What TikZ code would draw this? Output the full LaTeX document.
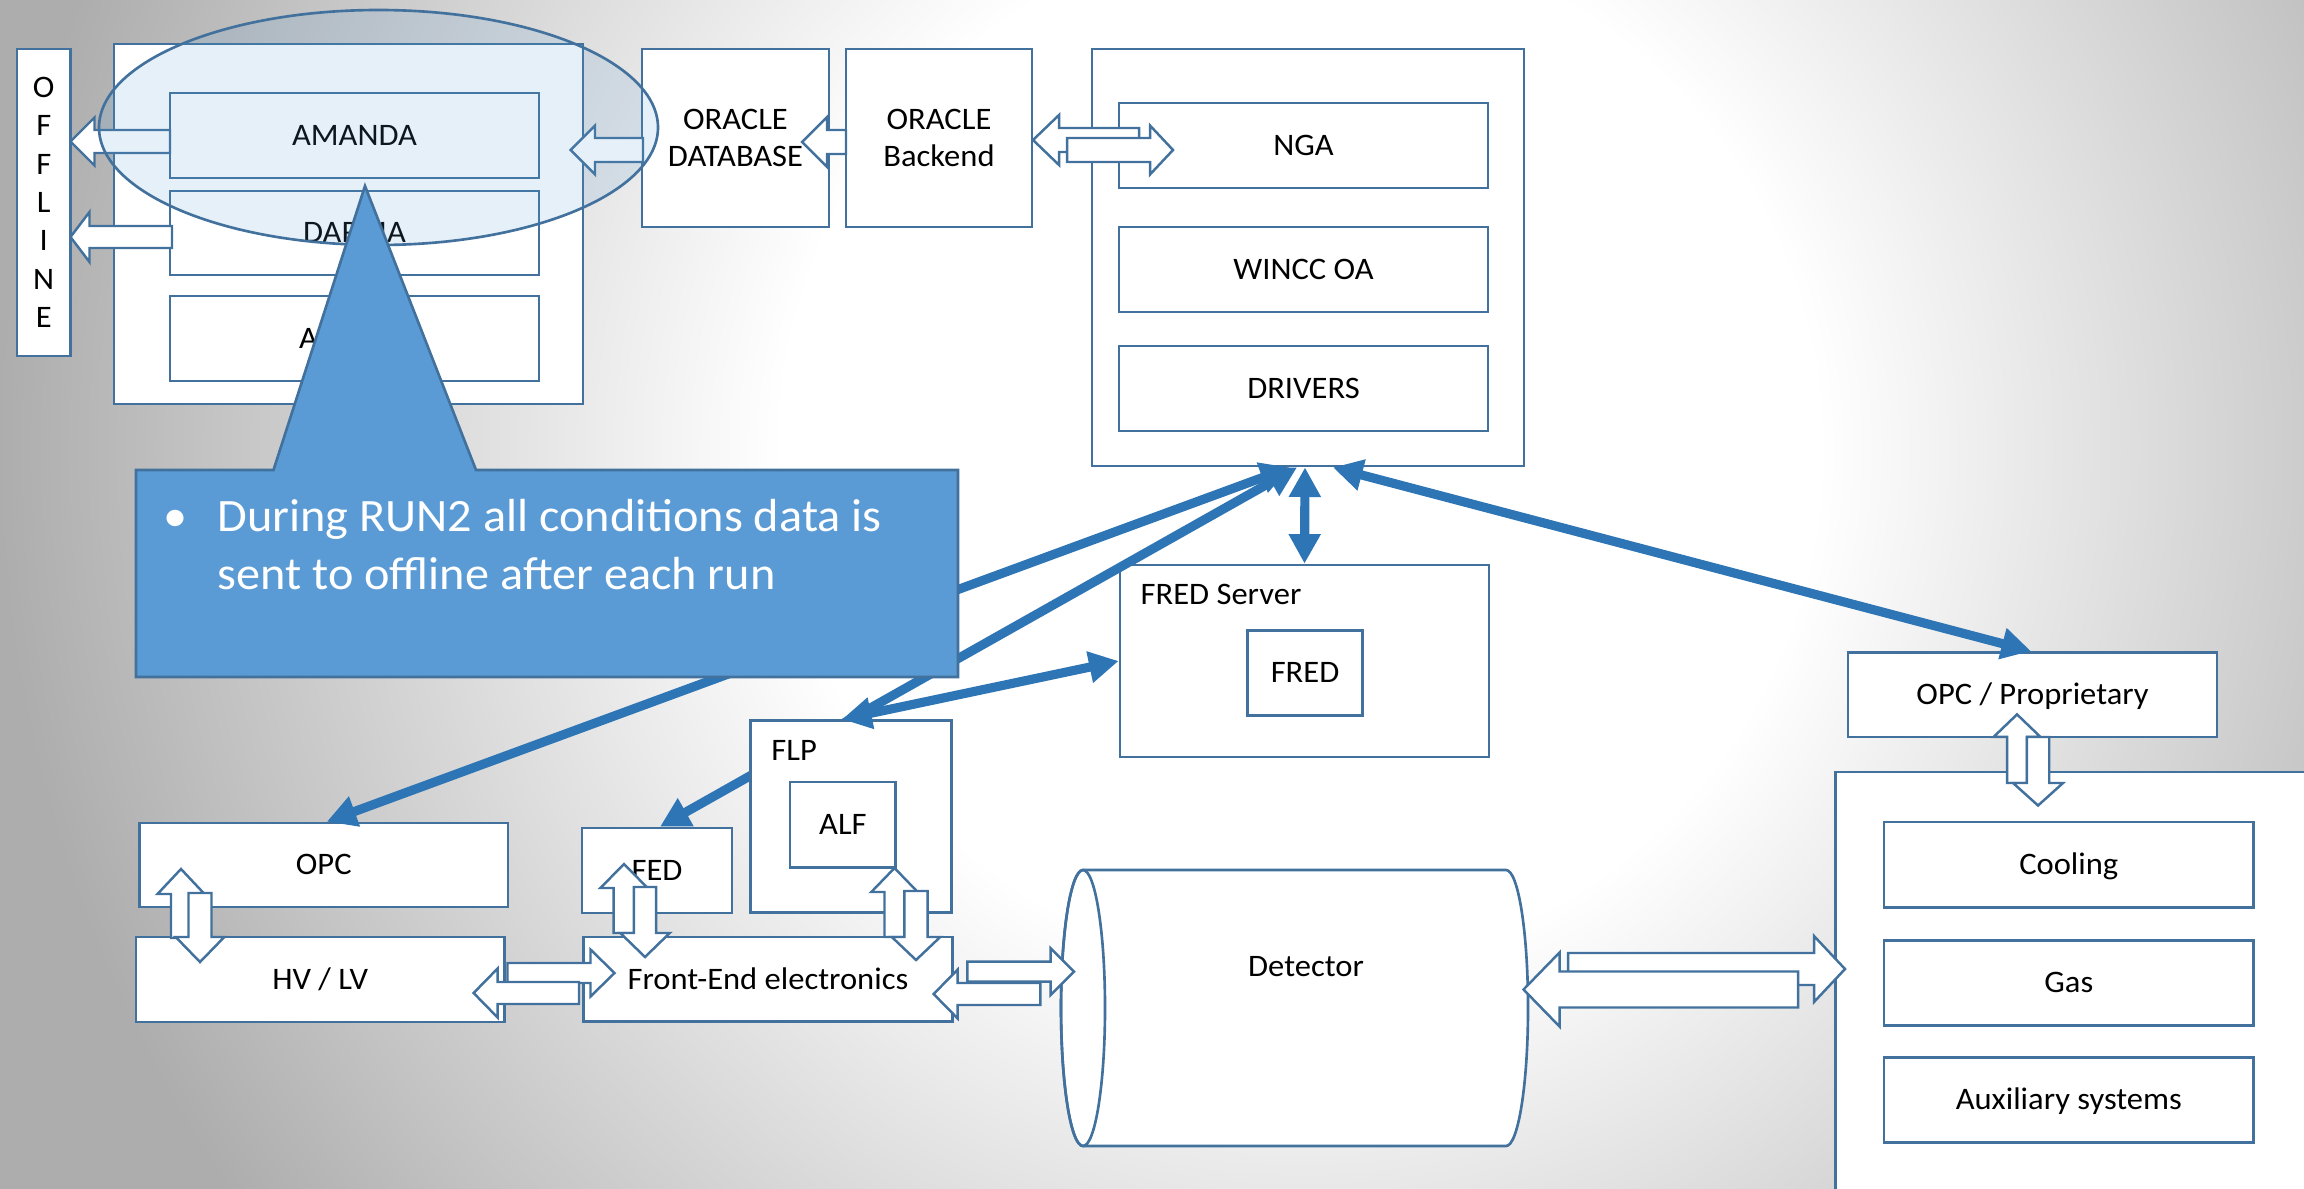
\documentclass[tikz,border=0pt]{standalone}
\usepackage{fontspec}
\setmainfont{Carlito}[FakeStretch=1.04]
\usetikzlibrary{arrows.meta}

\definecolor{edgeblue}{RGB}{65,113,156}
\definecolor{accentblue}{RGB}{91,155,213}
\definecolor{linkblue}{RGB}{46,117,182}

% slide background: white glow, grey towards the edges
\pgfdeclareradialshading{slidebg}{\pgfpointorigin}{rgb(0bp)=(1,1,1); rgb(147bp)=(1,1,1); rgb(368bp)=(0.68,0.68,0.68); rgb(500bp)=(0.68,0.68,0.68)}

% hollow block arrow: tail point, direction angle, length, shaft half width, head half width, head length
\newcommand\blockarrow[6]{%
  \begin{scope}[shift={#1},rotate=#2]
    \draw[blockline] (0,-#4) -- ({#3-#6},-#4) -- ({#3-#6},-#5) -- (#3,0)
      -- ({#3-#6},#5) -- ({#3-#6},#4) -- (0,#4) -- cycle;
  \end{scope}}

\tikzset{
  lbl/.style={font=\fontsize{8.9pt}{10.6pt}\selectfont, text=black, inner sep=0pt},
  box/.style={draw=edgeblue, line width=0.75pt, fill=white, inner sep=0pt, align=center,
    font=\fontsize{8.9pt}{10.6pt}\selectfont, text=black},
  oneline/.style={text height=5.62pt, text depth=0pt},
  blockline/.style={draw=edgeblue, line width=0.7pt, fill=white, line join=miter},
  link/.style={draw=linkblue, line width=2.6pt,
    arrows={Triangle[length=8.4pt,width=8.6pt]-Triangle[length=8.4pt,width=8.6pt]}},
  shapeline/.style={draw=edgeblue, line width=0.75pt}
}

\begin{document}
\begin{tikzpicture}[x=0.01cm,y=-0.01cm]
\useasboundingbox (0,0) rectangle (2304,1188);
\clip (0,0) rectangle (2304,1188);
\node[inner sep=0pt] (backdrop) at (1300,450) {\pgfuseshading{slidebg}};

% archive side
\node[box, minimum width=0.535cm, minimum height=3.07cm,
  font=\fontsize{8.9pt}{10.9pt}\selectfont] (offline) at (43.75,202.5) {O\\F\\F\\L\\I\\N\\E};
\node[box, minimum width=4.69cm, minimum height=3.6cm] (archive) at (348.5,224) {};
\node[box, oneline, minimum width=3.69cm, minimum height=0.85cm] (amanda) at (354.5,135.5) {AMANDA};
\node[box, oneline, minimum width=3.69cm, minimum height=0.84cm] (darma) at (354.5,233) {DARMA};
\node[box, oneline, minimum width=3.69cm, minimum height=0.85cm] (adapos) at (354.5,338.5) {ADAPOS};
\node[box, minimum width=1.87cm, minimum height=1.78cm,
  font=\fontsize{8.9pt}{10.5pt}\selectfont] (oracledb) at (735.5,138) {ORACLE\\DATABASE};
\node[box, minimum width=1.86cm, minimum height=1.78cm,
  font=\fontsize{8.9pt}{10.5pt}\selectfont] (backend) at (939,138) {ORACLE\\Backend};

% SCADA stack
\node[box, minimum width=4.32cm, minimum height=4.17cm] (scada) at (1308,257.5) {};
\node[box, oneline, minimum width=3.69cm, minimum height=0.85cm] (nga) at (1303.5,145.5) {NGA};
\node[box, oneline, minimum width=3.69cm, minimum height=0.85cm] (winccoa) at (1303.5,269.5) {WINCC OA};
\node[box, oneline, minimum width=3.69cm, minimum height=0.85cm] (drivers) at (1303.5,388.5) {DRIVERS};

% FRED server
\node[box, minimum width=3.69cm, minimum height=1.92cm] (fredsrv) at (1304.5,661) {};
\node[lbl, anchor=base west] (fredsrvlbl) at (1140,604) {FRED Server};
\node[box, oneline, minimum width=1.15cm, minimum height=0.85cm] (fred) at (1305,673) {FRED};

% services
\node[box, oneline, minimum width=3.69cm, minimum height=0.845cm] (opcp) at (2032.5,694.75) {OPC / Proprietary};
\node[box, minimum width=4.9cm, minimum height=4.4cm, anchor=north west] (services) at (1834,770.6) {};
\node[box, oneline, minimum width=3.696cm, minimum height=0.855cm] (cooling) at (2068.8,864.75) {Cooling};
\node[box, oneline, minimum width=3.696cm, minimum height=0.855cm] (gas) at (2068.8,983) {Gas};
\node[box, oneline, minimum width=3.696cm, minimum height=0.855cm] (aux) at (2068.8,1100) {Auxiliary systems};

% front end side
\node[box, oneline, minimum width=3.684cm, minimum height=0.84cm] (opc) at (323.8,865) {OPC};
\node[box, oneline, minimum width=3.686cm, minimum height=0.85cm] (hvlv) at (320.3,979.5) {HV / LV};
\node[box, oneline, minimum width=1.5cm, minimum height=0.85cm] (fed) at (657,870.5) {FED};
\node[box, oneline, minimum width=3.692cm, minimum height=0.847cm] (fee) at (768,979.4) {Front-End electronics};

% link to FED runs behind the FLP box
\draw[link] ([xshift=-0.11cm]scada.south) -- ([xshift=0.03cm]fed.north);

\node[box, minimum width=2.01cm, minimum height=1.92cm] (flp) at (851,816.7) {};
\node[lbl, anchor=base west] (flplbl) at (770.7,760) {FLP};
\node[box, oneline, minimum width=1.057cm, minimum height=0.857cm] (alf) at (842.9,824.9) {ALF};

% detector cylinder
\draw[shapeline, fill=white] (1083,870) -- (1506,870)
  arc[start angle=-90, end angle=90, x radius=22, y radius=138] -- (1083,1146)
  arc[start angle=90, end angle=270, x radius=22, y radius=138] -- cycle;
\draw[shapeline] (1083,1008) ellipse[x radius=22, y radius=138];
\node[lbl, oneline] (detector) at (1306,967) {Detector};

% control links
\draw[link] ([xshift=-0.18cm]scada.south) -- ([xshift=0.03cm]opc.north);
\draw[link] ([xshift=-0.03cm]scada.south) -- (fredsrv.north);
\draw[link] ([xshift=0.25cm]scada.south) -- ([xshift=-0.015cm]opcp.north);
\draw[link] ([xshift=-0.09cm]flp.north) -- (fredsrv.west);

% data flow block arrows
\blockarrow{(170,141.5)}{180}{99.5}{11.5}{24}{24}
\blockarrow{(172,237)}{180}{101.5}{11}{25}{19}
\blockarrow{(643,150)}{180}{72.5}{12}{24.5}{24.5}
\blockarrow{(846,142)}{180}{44}{12}{25}{25}
\blockarrow{(1139,140)}{180}{106}{12}{25}{26}
\blockarrow{(1067,150)}{0}{106}{12}{24.5}{23}
\blockarrow{(181,938)}{90}{69}{10}{23.5}{25}
\blockarrow{(200,893)}{-90}{69}{11.5}{24.3}{25}
\blockarrow{(507.5,973)}{0}{107}{10}{23.5}{24}
\blockarrow{(579,993)}{180}{105.4}{11}{24.5}{24}
\blockarrow{(624,933)}{90}{69}{10.3}{23.6}{24}
\blockarrow{(645,887)}{-90}{70}{11.2}{24.7}{24}
\blockarrow{(894.5,937)}{90}{69}{10}{23.2}{24}
\blockarrow{(916,891)}{-90}{69}{11.7}{24.2}{23}
\blockarrow{(967.4,971.7)}{0}{106.6}{10}{23.3}{23.3}
\blockarrow{(1040.4,994)}{180}{106.8}{11}{24.4}{24}
\blockarrow{(1568,969)}{0}{277}{16}{33}{31}
\blockarrow{(1798,989.5)}{180}{274.5}{18}{37}{36}
\blockarrow{(2017,783)}{90}{68.6}{10}{23.4}{22.5}
\blockarrow{(2038,737)}{-90}{68.5}{11.2}{25}{22.5}

% highlight around the archive boxes
\draw[shapeline, fill=accentblue, fill opacity=0.15] (378.5,127.5) ellipse[x radius=279.5, y radius=117.5];

% callout
\draw[shapeline, fill=accentblue] (136,470) -- (273.5,470) -- (365,186) -- (476,470)
  -- (958,470) -- (958,677) -- (136,677) -- cycle;
\node[anchor=base west, inner sep=0pt, text=white] (note) at (162.5,531)
  {\parbox[t]{7.9cm}{\raggedright\fontsize{13.2pt}{16.6pt}\selectfont
   \makebox[0.542cm][l]{•}During RUN2 all conditions data is\\
   \hspace*{0.542cm}sent to offline after each run}};
\end{tikzpicture}
\end{document}
